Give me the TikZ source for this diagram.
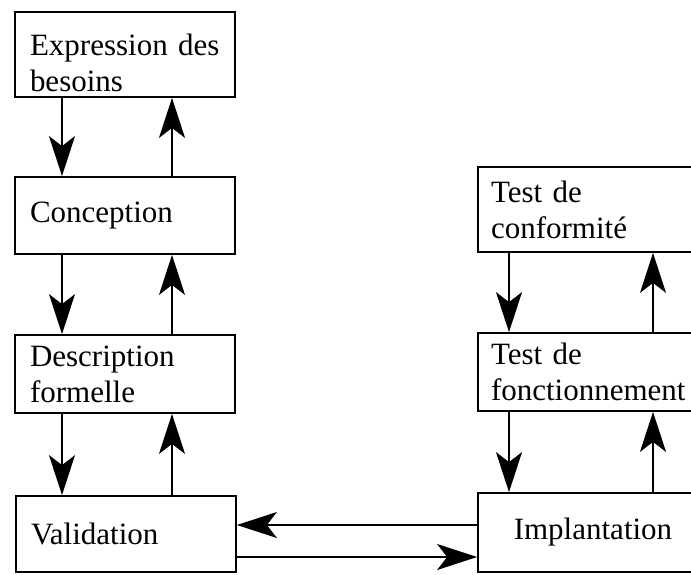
\documentclass[tikz,border=0pt]{standalone}
\usepackage{fontspec}
\setmainfont{Liberation Serif}
\usetikzlibrary{arrows.meta}
\begin{document}
\begin{tikzpicture}[x=1pt,y=-1pt,
  stage/.style={draw, line width=1.8pt, rectangle, inner ysep=0pt,
    font=\fontsize{31}{36}\selectfont, align=left},
  lstage/.style={stage, minimum width=220pt, text width=190pt, inner xsep=15pt},
  rstage/.style={stage, minimum width=230pt, text width=204pt, inner xsep=13pt},
  flow/.style={line width=1.5pt, -{Stealth[length=40pt, width=26pt, inset=10pt]}}]
  \useasboundingbox (0,0) rectangle (691,574);
  \clip (0,0) rectangle (691,574);
  \fill[white] (0,0) rectangle (691,574);

  % left column (a strut lowers the first text a little inside its box)
  \node[lstage, minimum height=85pt] (exp) at (125,54.5) {\rule{0pt}{38pt}Expression des\\besoins};
  \node[lstage, minimum height=77pt] (con) at (125,215.5) {Conception};
  \node[lstage, minimum height=78pt] (desc) at (125,374) {Description\\formelle};
  \node[lstage, minimum height=76pt] (val) at (126,534) {Validation};

  % right column
  \node[rstage, minimum height=85pt] (conf) at (593,209.5) {Test de\\conformit\'e};
  \node[rstage, minimum height=78pt] (fonc) at (593,372) {Test de\\fonctionnement};
  \node[rstage, minimum height=79pt, align=center] (impl) at (593,532.5) {Implantation};

  % x positions of the vertical connectors, y positions of the horizontal ones
  \coordinate (ld) at (62,0);
  \coordinate (lu) at (172,0);
  \coordinate (rd) at (509,0);
  \coordinate (ru) at (653,0);
  \coordinate (hu) at (0,525);
  \coordinate (hl) at (0,557);

  \draw[flow] (exp.south -| ld) -- (con.north -| ld);
  \draw[flow] (con.north -| lu) -- (exp.south -| lu);
  \draw[flow] (con.south -| ld) -- (desc.north -| ld);
  \draw[flow] (desc.north -| lu) -- (con.south -| lu);
  \draw[flow] (desc.south -| ld) -- (val.north -| ld);
  \draw[flow] (val.north -| lu) -- (desc.south -| lu);

  \draw[flow] (conf.south -| rd) -- (fonc.north -| rd);
  \draw[flow] (fonc.north -| ru) -- (conf.south -| ru);
  \draw[flow] (fonc.south -| rd) -- (impl.north -| rd);
  \draw[flow] (impl.north -| ru) -- (fonc.south -| ru);

  \draw[flow] (impl.west |- hu) -- (val.east |- hu);
  \draw[flow] (val.east |- hl) -- (impl.west |- hl);
\end{tikzpicture}
\end{document}
